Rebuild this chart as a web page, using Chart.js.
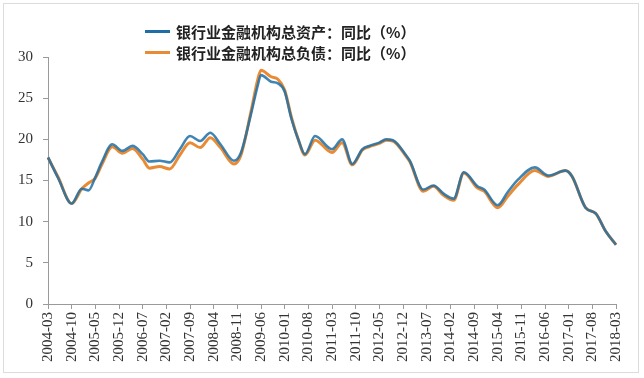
<!DOCTYPE html>
<html>
<head>
<meta charset="utf-8">
<script src="https://cdn.jsdelivr.net/npm/chart.js@4"></script>
<style>
  html, body { margin: 0; padding: 0; background: #fff; }
  #wrap { position: relative; width: 644px; height: 378px; overflow: hidden; }
  #frame { position: absolute; left: 3px; top: 3px; width: 634px; height: 368px; border: 1px solid #dcdcdc; pointer-events: none; }
  .leg { position: absolute; left: 145px; height: 20px; display: flex; align-items: center; font-family: "Noto Sans CJK SC", sans-serif; font-weight: 700; font-size: 15px; color: #222; white-space: nowrap; }
  .leg i { display: inline-block; width: 25px; height: 3px; margin-right: 6px; }
  canvas { position: absolute; left: 0; top: 0; }
</style>
</head>
<body>
<div id="wrap">
  <canvas id="c" width="644" height="378"></canvas>
  <div class="leg" id="leg1" style="top:21px"><i></i><span></span></div>
  <div class="leg" id="leg2" style="top:42px"><i></i><span></span></div>
  <div id="frame"></div>
</div>
<script>
// Series labels
const seriesNames = ['银行业金融机构总资产：同比（%）', '银行业金融机构总负债：同比（%）'];
const seriesColors = ['#1f6ea6', '#e98b35'];

const dates = ['2004-03','2004-06','2004-10','2005-01','2005-03','2005-05','2005-07','2005-10','2006-01','2006-04','2006-07','2006-09','2006-12','2007-03','2007-06','2007-09','2007-12','2008-03','2008-06','2008-10','2008-12','2009-03','2009-05','2009-06','2009-09','2009-11','2010-01','2010-03','2010-05','2010-07','2010-10','2011-03','2011-06','2011-09','2011-12','2012-02','2012-05','2012-07','2012-09','2013-01','2013-02','2013-06','2013-09','2013-12','2014-03','2014-06','2014-10','2014-12','2015-04','2015-07','2015-10','2016-03','2016-07','2016-12','2017-02','2017-06','2017-09','2017-12','2018-03'];

// 总资产 同比 (%)
const assets = [17.8,15.3,12.2,14.0,13.8,15.4,17.3,19.4,18.6,19.2,18.2,17.3,17.4,17.2,18.8,20.4,19.8,20.8,19.4,17.4,18.3,23.0,26.5,27.8,27.0,26.8,25.8,22.5,20.0,18.2,20.4,18.8,20.0,17.0,18.8,19.2,19.6,20.0,19.9,18.0,17.4,13.9,14.4,13.4,12.8,16.0,14.3,13.9,12.0,13.6,15.1,16.6,15.6,16.2,15.5,11.7,11.0,8.8,7.2];

// 总负债 同比 (%)
const liabilities = [17.8,15.4,12.2,14.0,14.7,15.3,17.0,19.1,18.3,18.9,17.6,16.5,16.7,16.4,18.1,19.6,19.0,20.2,19.0,17.0,18.0,23.3,27.2,28.4,27.6,27.3,26.0,22.7,20.0,18.1,19.9,18.4,19.6,16.9,18.7,19.1,19.5,19.9,19.8,17.9,17.3,13.7,14.3,13.2,12.6,15.9,14.1,13.7,11.7,13.1,14.5,16.2,15.5,16.2,15.5,11.7,11.0,8.8,7.2];

// Category axis: months from 2004-03 to 2018-03
const months = [];
for (let y = 2004, m = 3; y < 2018 || (y === 2018 && m <= 3); ) {
  months.push(y + '-' + String(m).padStart(2, '0'));
  m++; if (m > 12) { m = 1; y++; }
}
const tickEvery = 7;
const yTicks = { min: 0, max: 30, step: 5 };

// legend
[0, 1].forEach(i => {
  const el = document.getElementById('leg' + (i + 1));
  el.querySelector('i').style.background = seriesColors[i];
  el.querySelector('span').textContent = seriesNames[i];
});

const tickFont = { family: '"Liberation Serif", "Times New Roman", serif', size: 15 };

new Chart(document.getElementById('c'), {
  type: 'line',
  data: {
    labels: months,
    datasets: [
      {
        label: seriesNames[0],
        data: dates.map((d, i) => ({ x: d, y: assets[i] })),
        borderColor: 'rgba(31,110,166,0.85)',
        backgroundColor: seriesColors[0],
        borderWidth: 2.6,
        pointRadius: 0,
        tension: 0.4,
        cubicInterpolationMode: 'monotone'
      },
      {
        label: seriesNames[1],
        data: dates.map((d, i) => ({ x: d, y: liabilities[i] })),
        borderColor: seriesColors[1],
        backgroundColor: seriesColors[1],
        borderWidth: 3,
        pointRadius: 0,
        tension: 0.4,
        cubicInterpolationMode: 'monotone'
      }
    ]
  },
  options: {
    responsive: false,
    animation: false,
    devicePixelRatio: 1,
    layout: { padding: { top: 57, right: 28, bottom: 13, left: 0 } },
    plugins: { legend: { display: false }, tooltip: { enabled: false } },
    scales: {
      x: {
        type: 'category',
        offset: false,
        grid: { drawOnChartArea: false, drawTicks: true, tickLength: 5, color: '#9a9a9a' },
        border: { color: '#9a9a9a', width: 1 },
        ticks: { autoSkip: false, maxRotation: 90, minRotation: 90, font: tickFont, color: '#333', padding: 3 },
        afterBuildTicks: axis => { axis.ticks = axis.ticks.filter(t => t.value % tickEvery === 0); }
      },
      y: {
        min: yTicks.min,
        max: yTicks.max,
        grid: { drawOnChartArea: false, drawTicks: true, tickLength: 5, color: '#9a9a9a' },
        border: { color: '#9a9a9a', width: 1 },
        ticks: { stepSize: yTicks.step, font: tickFont, color: '#333', padding: 10 },
        afterFit: axis => { axis.width = 48; }
      }
    }
  }
});
</script>
</body>
</html>
